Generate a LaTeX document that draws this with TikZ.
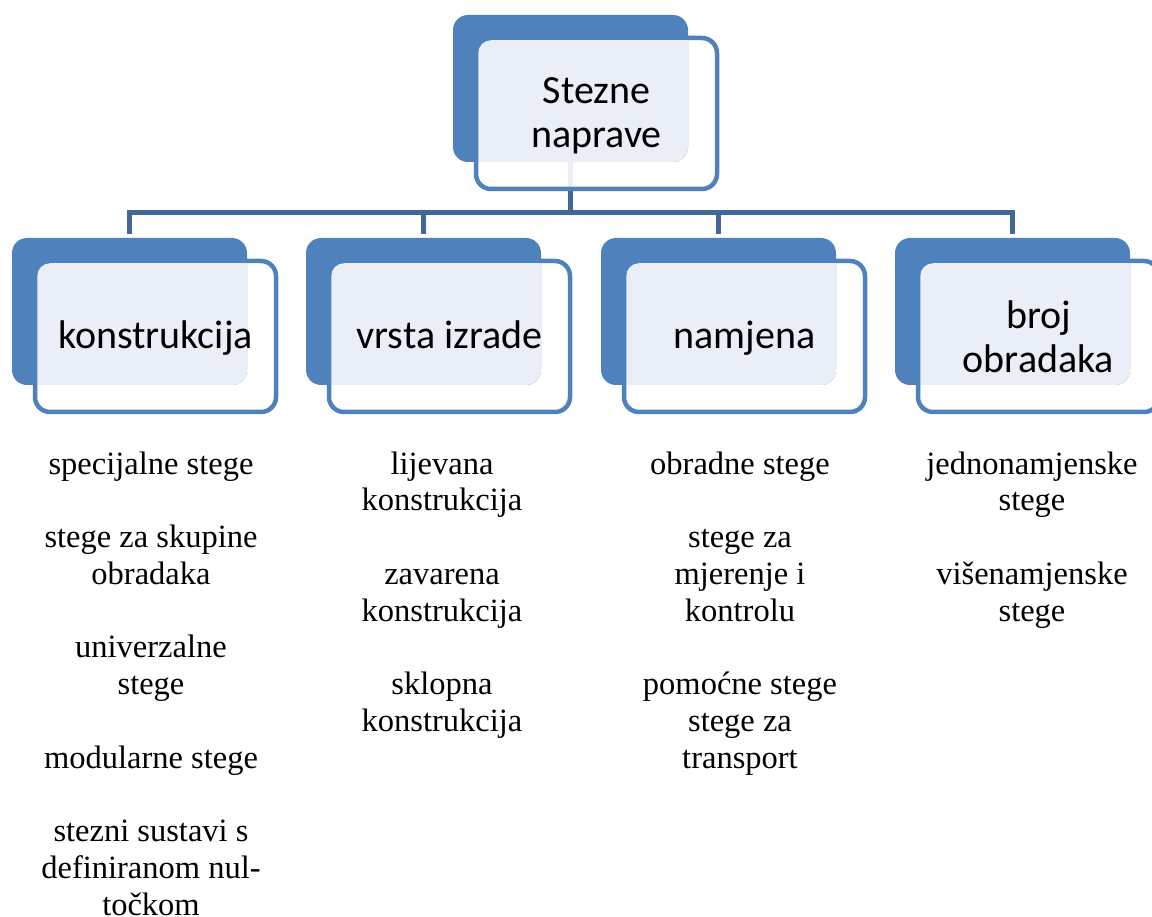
\documentclass[tikz,border=0pt]{standalone}
\usepackage{fontspec}
\setmainfont{Liberation Serif}
\newfontfamily\boxfont{Carlito}
\definecolor{accent}{HTML}{4F81BD}
\definecolor{lightc}{HTML}{EAEFF7}
\definecolor{connc}{HTML}{41689A}
\pgfdeclarelayer{bg}
\pgfsetlayers{bg,main}
\begin{document}
\begin{tikzpicture}[x=1pt,y=-1pt,
  backbox/.style={rectangle, rounded corners=15pt, fill=accent, minimum width=235pt, minimum height=147pt, inner sep=0pt, outer sep=0pt},
  frontbox/.style={rectangle, rounded corners=15pt, draw=accent, line width=4.5pt, fill=white, fill opacity=0.9, minimum width=241pt, minimum height=151pt, inner sep=0pt, outer sep=0pt},
  boxlabel/.style={anchor=north, inner sep=0pt, align=center, font=\boxfont\fontsize{40}{44}\selectfont},
  listtext/.style={anchor=north, inner sep=0pt, align=center, font=\fontsize{32.5}{36.75}\selectfont},
  conn/.style={draw=connc, line width=5pt}
]
\useasboundingbox (0,0) rectangle (1152,917);

% front boxes (white, outlined)
\node[frontbox] (ft) at (596.5,113.5) {};
\node[frontbox] (f1) at (155.5,336.5) {};
\node[frontbox] (f2) at (449.5,336.5) {};
\node[frontbox] (f3) at (744.5,336.5) {};
\node[frontbox] (f4) at (1038.5,336.5) {};

% back boxes (filled)
\node[backbox] (bt) at (570.5,88.5) {};
\node[backbox] (b1) at (129.5,311.5) {};
\node[backbox] (b2) at (423.5,311.5) {};
\node[backbox] (b3) at (718.5,311.5) {};
\node[backbox] (b4) at (1012.5,311.5) {};

% light overlap
\foreach \n in {t,1,2,3,4}{
  \begin{scope}
    \clip[rounded corners=12.75pt] ([xshift=2.25pt,yshift=-2.25pt]f\n.north west) rectangle ([xshift=-2.25pt,yshift=2.25pt]f\n.south east);
    \fill[lightc, rounded corners=15pt] (b\n.north west) rectangle (b\n.south east);
  \end{scope}
}

% connectors
\coordinate (bus) at (570.5,213);
\begin{pgfonlayer}{bg}
  \draw[conn] (bt.south) -- (bus);
  \draw[conn, shorten >=4pt] (bus) -| (b1.north);
  \draw[conn, shorten >=4pt] (bus) -| (b2.north);
  \draw[conn, shorten >=4pt] (bus) -| (b3.north);
  \draw[conn, shorten >=4pt] (bus) -| (b4.north);
\end{pgfonlayer}

% box labels
\node[boxlabel] (lt) at (596.5,72.2) {\strut Stezne\\naprave};
\node[boxlabel] (l1) at (155.5,317.2) {\strut konstrukcija};
\node[boxlabel] (l2) at (449.5,317.2) {\strut vrsta izrade};
\node[boxlabel] (l3) at (744.5,317.2) {\strut namjena};
\node[boxlabel] (l4) at (1038.5,297.2) {\strut broj\\obradaka};

% lists
\node[listtext] (c1) at (151,448.3) {\strut specijalne stege\\[36.75pt]stege za skupine\\obradaka\\[36.75pt]univerzalne\\stege\\[36.75pt]modularne stege\\[36.75pt]stezni sustavi s\\definiranom nul-\\točkom};
\node[listtext] (c2) at (442,448.3) {\strut lijevana\\konstrukcija\\[36.75pt]zavarena\\konstrukcija\\[36.75pt]sklopna\\konstrukcija};
\node[listtext] (c3) at (740,448.3) {\strut obradne stege\\[36.75pt]stege za\\mjerenje i\\kontrolu\\[36.75pt]pomoćne stege\\stege za\\transport};
\node[listtext] (c4) at (1032,448.3) {\strut jednonamjenske\\stege\\[36.75pt]višenamjenske\\stege};
\end{tikzpicture}
\end{document}
